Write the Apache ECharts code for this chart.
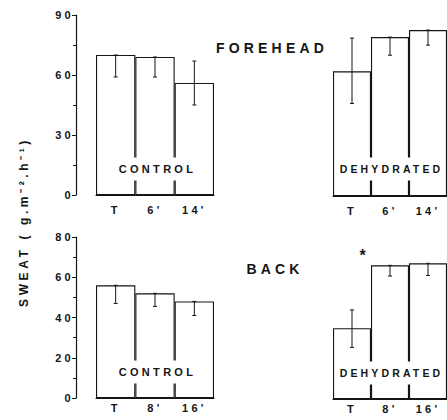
<!DOCTYPE html>
<html><head><meta charset="utf-8">
<script src="https://cdn.jsdelivr.net/npm/echarts@6/dist/echarts.min.js"></script>
<style>
html,body{margin:0;padding:0;background:#fff}
#c{width:447px;height:420px}
#c text{letter-spacing:0.3em}
</style>
</head><body><div id="c"></div>
<script>
// ---- data ----
const foreheadTimes = ['T', "6'", "14'"];
const backTimes = ['T', "8'", "16'"];
const foreheadTicks = [0, 30, 60, 90];
const backTicks = [0, 20, 40, 60, 80];

const foreheadControl = [70, 69, 56];
const foreheadControlLow = [59, 59, 45];
const foreheadControlHigh = [70, 69, 67];

const foreheadDehyd = [62, 79, 82.5];
const foreheadDehydLow = [46, 70, 75];
const foreheadDehydHigh = [78.5, 79, 82.5];

const backControl = [56, 52, 48];
const backControlLow = [47, 45.5, 41];
const backControlHigh = [56, 52, 48];

const backDehyd = [35, 66, 67];
const backDehydLow = [25.5, 60.7, 61];
const backDehydHigh = [44, 66, 67];
const backDehydMarks = ['', '*', ''];

// ---- chart ----
const FF = '"Liberation Sans", Arial, Helvetica, sans-serif';
const INK = '#151515';
const chart = echarts.init(document.getElementById('c'), null, {renderer: 'svg'});

function errData(low, high, marks) {
  return low.map((l, i) => [i, l, high[i], marks ? marks[i] : '']);
}
function errRender(params, api) {
  const i = api.value(0);
  const lo = api.coord([i, api.value(1)]);
  const hi = api.coord([i, api.value(2)]);
  const x = lo[0];
  const cap = 2;
  const ls = {stroke: INK, lineWidth: 1};
  const children = [
    {type: 'line', shape: {x1: x, y1: hi[1], x2: x, y2: lo[1]}, style: ls},
    {type: 'line', shape: {x1: x - cap, y1: lo[1], x2: x + cap, y2: lo[1]}, style: ls},
    {type: 'line', shape: {x1: x - cap, y1: hi[1], x2: x + cap, y2: hi[1]}, style: ls}
  ];
  const mark = api.value(3);
  if (mark && mark !== '-') {
    const bw = api.size([1, 0])[0];
    children.push({type: 'text', x: x - bw / 2 - 6, y: hi[1] - 10,
      style: {text: String(mark), font: 'bold 16px ' + FF, fill: INK, align: 'center', verticalAlign: 'middle'}});
  }
  return {type: 'group', children};
}

function xAxis(grid, data, margin) {
  return {
    gridIndex: grid, type: 'category', data: data,
    axisLine: {show: true, lineStyle: {color: INK, width: 1.2}},
    axisTick: {show: false},
    axisLabel: {margin: margin, color: INK, fontSize: 11, fontWeight: 'bold', fontFamily: FF}
  };
}
function yAxis(grid, max, interval, show) {
  return {
    gridIndex: grid, type: 'value', min: 0, max: max, interval: interval, show: show, offset: 20,
    axisLine: {show: true, lineStyle: {color: INK, width: 1.2}},
    axisTick: {show: true, length: 4, lineStyle: {color: INK}},
    minorTick: {show: true, splitNumber: 2, length: 3, lineStyle: {color: INK}},
    splitLine: {show: false},
    axisLabel: {margin: 2, color: INK, fontSize: 11, fontWeight: 'bold', fontFamily: FF}
  };
}
function barSeries(idx, data) {
  return {
    type: 'bar', xAxisIndex: idx, yAxisIndex: idx, data: data, barCategoryGap: '0%',
    itemStyle: {color: '#fff', borderColor: INK, borderWidth: 1.1}, silent: true
  };
}
function errSeries(idx, low, high, marks) {
  return {type: 'custom', xAxisIndex: idx, yAxisIndex: idx, data: errData(low, high, marks),
    renderItem: errRender, silent: true, z: 5};
}
function txt(text, x, y, size, extra, boxed) {
  const style = {text: text, font: 'bold ' + size + 'px ' + FF, fill: INK, align: 'center', verticalAlign: 'middle'};
  if (boxed) { style.backgroundColor = '#fff'; style.padding = [6, 1, 6, 4]; }
  return Object.assign({type: 'text', x: x, y: y, z: 100, style: style}, extra || {});
}

chart.setOption({
  animation: false,
  backgroundColor: '#fff',
  grid: [
    {left: 96, top: 15, width: 118, height: 180},
    {left: 333, top: 15, width: 117, height: 181},
    {left: 96, top: 237, width: 118, height: 161},
    {left: 333, top: 237, width: 117, height: 162}
  ],
  xAxis: [
    xAxis(0, foreheadTimes, 9),
    xAxis(1, foreheadTimes, 9),
    xAxis(2, backTimes, 4),
    xAxis(3, backTimes, 4)
  ],
  yAxis: [
    yAxis(0, foreheadTicks[foreheadTicks.length - 1], foreheadTicks[1], true),
    yAxis(1, foreheadTicks[foreheadTicks.length - 1], foreheadTicks[1], false),
    yAxis(2, backTicks[backTicks.length - 1], backTicks[1], true),
    yAxis(3, backTicks[backTicks.length - 1], backTicks[1], false)
  ],
  series: [
    barSeries(0, foreheadControl), errSeries(0, foreheadControlLow, foreheadControlHigh),
    barSeries(1, foreheadDehyd), errSeries(1, foreheadDehydLow, foreheadDehydHigh),
    barSeries(2, backControl), errSeries(2, backControlLow, backControlHigh),
    barSeries(3, backDehyd), errSeries(3, backDehydLow, backDehydHigh, backDehydMarks)
  ],
  graphic: {
    elements: [
      txt('FOREHEAD', 272, 48, 14),
      txt('BACK', 275, 269, 14),
      txt('CONTROL', 156, 169, 11, null, true),
      txt('DEHYDRATED', 390, 169, 10.5, null, true),
      txt('CONTROL', 156, 372, 11, null, true),
      txt('DEHYDRATED', 390, 373, 10.5, null, true),
      txt('SWEAT ( g.m⁻².h⁻¹)', 24, 222, 12, {rotation: Math.PI / 2})
    ]
  }
});
</script>
</body></html>
